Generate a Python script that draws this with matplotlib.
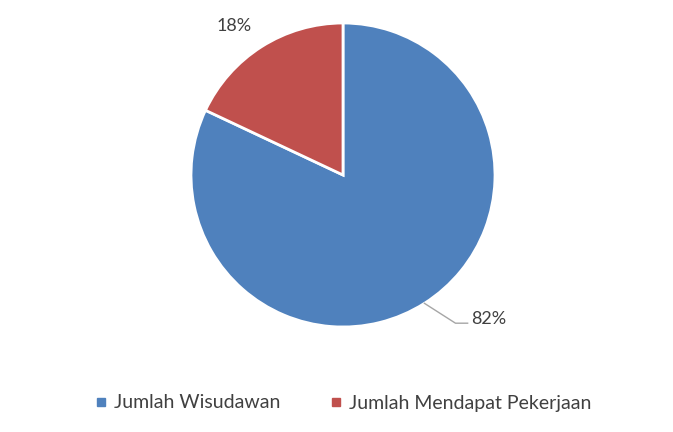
import matplotlib
matplotlib.use('Agg')
import matplotlib.pyplot as plt
from matplotlib.lines import Line2D
import numpy as np

labels = ['Jumlah Wisudawan', 'Jumlah Mendapat Pekerjaan']
values = [82, 18]
colors = ['#4F81BD', '#C0504D']

plt.rcParams['font.family'] = ['Lato', 'DejaVu Sans']
txt_col = '#404040'

W, H = 673, 432
fig = plt.figure(figsize=(W/100, H/100), dpi=100)
cx, cy, R = 343, 175, 152
ax = fig.add_axes([(cx-R)/W, (H-cy-R)/H, 2*R/W, 2*R/H])
wedges, _ = ax.pie(values, colors=colors, startangle=90, counterclock=False,
                   radius=1, wedgeprops=dict(edgecolor='white', linewidth=2))
ax.set_xlim(-1, 1)
ax.set_ylim(-1, 1)
ax.set_aspect('equal')
ax.axis('off')

# percentage labels
for w, v in zip(wedges, values):
    ang = np.deg2rad((w.theta1 + w.theta2) / 2)
    pct = '%d%%' % round(v / sum(values) * 100)
    if v < 50:
        ax.text(1.23*np.cos(ang) - 0.06, 1.23*np.sin(ang) - 0.06, pct, ha='center', va='center',
                fontsize=13, color=txt_col)
    else:
        x0, y0 = np.cos(ang), np.sin(ang)
        ax.plot([x0, 0.74, 0.82], [y0, -0.975, -0.975], color='#A6A6A6', lw=1, clip_on=False)
        ax.text(0.84, -0.95, pct, ha='left', va='center', fontsize=13, color=txt_col)

handles = [Line2D([], [], marker='s', ls='', color=c, markersize=6) for c in colors]
fig.legend(handles, labels, loc='center', bbox_to_anchor=(0.51, 1 - 403/H), ncol=2,
           frameon=False, fontsize=14, handlelength=0.6, handletextpad=0.35,
           columnspacing=2.6, labelcolor=txt_col)

fig.savefig('out.png', dpi=100, facecolor='white')
